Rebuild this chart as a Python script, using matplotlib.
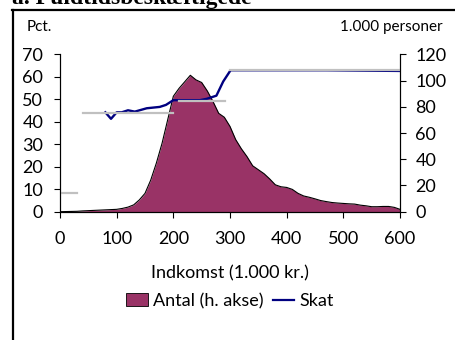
import numpy as np
import matplotlib.pyplot as plt
from matplotlib.lines import Line2D

plt.rcParams['font.family'] = ['Lato', 'DejaVu Sans']

# Antal (1.000 personer, right axis) by income
inc = [0, 10, 20, 30, 40, 50, 60, 70, 80, 90, 100, 110, 120, 130, 140, 150,
       160, 170, 180, 190, 200, 210, 220, 230, 240, 250, 260, 270, 280, 290,
       300, 310, 320, 330, 340, 350, 360, 370, 380, 390, 400, 410, 420, 430,
       440, 450, 460, 470, 480, 490, 500, 510, 520, 530, 540, 550, 560, 570,
       580, 590, 600]
antal = [0, 0.1, 0.2, 0.3, 0.6, 0.8, 1.0, 1.2, 1.4, 1.6, 1.8, 2.5, 3.5, 5.2,
         9, 14, 24, 37, 52, 70, 88, 94, 99, 104, 100.5, 98.5, 92, 84, 75, 72,
         65, 55, 48, 42, 35, 32, 29, 25, 20.5, 19, 18.5, 17, 14, 12, 11, 9.8,
         8.5, 7.7, 7, 6.6, 6.3, 6, 5.8, 5, 4.5, 3.8, 3.8, 4, 4, 3.3, 1.8]

# Skat (pct., left axis)
skat_x = [80, 90, 100, 109, 120, 132, 153, 176, 187, 200, 247, 259, 276, 288,
          301, 470, 600]
skat_y = [44.2, 41.3, 44.2, 44.2, 45.1, 44.5, 46.0, 46.6, 47.5, 49.6, 49.6,
          50.2, 51.6, 57.9, 62.9, 62.9, 62.6]

# grey bracket lines (pct.)
brackets = [(0, 30, 8.2), (40, 200, 43.8), (210, 291, 49.4), (300, 600, 62.9)]

fig = plt.figure(figsize=(4.55, 3.4), dpi=100)
ax = fig.add_axes([60 / 455, 1 - 211.7 / 340, 340 / 455, (211.7 - 54.3) / 340])
ax2 = ax.twinx()

ax2.fill_between(inc, antal, color='#993366', lw=0)
ax2.plot(inc, antal, color='black', lw=0.8)
ax2.set_ylim(0, 120)
ax2.set_yticks(range(0, 121, 20))

ax.set_zorder(ax2.get_zorder() + 1)
ax.patch.set_visible(False)
ax.plot(skat_x, skat_y, color='#000080', lw=1.7)
for x0, x1, y in brackets:
    ax.plot([x0, x1], [y, y], color='#c0c0c0', lw=1.6)
ax.set_xlim(0, 600)
ax.set_ylim(0, 70)
ax.set_xticks(range(0, 601, 100))
ax.set_yticks(range(0, 71, 10))

for a in (ax, ax2):
    a.spines['top'].set_visible(False)
    a.tick_params(labelsize=13, length=4, width=0.8)
ax.tick_params(axis='y', pad=8)
ax.tick_params(axis='x', pad=10)
ax2.tick_params(axis='y', pad=7)

ax.set_xlabel('Indkomst (1.000 kr.)', fontsize=13, labelpad=13)
fig.text(27 / 455, 1 - 27 / 340, 'Pct.', fontsize=11, va='center')
fig.text(443 / 455, 1 - 27 / 340, '1.000 personer', fontsize=11, va='center',
         ha='right')

handles = [plt.Rectangle((0, 0), 1, 1, facecolor='#993366', edgecolor='black',
                         lw=0.6),
           Line2D([0], [0], color='#000080', lw=1.6)]
fig.legend(handles, ['Antal (h. akse)', 'Skat'], loc='center',
           bbox_to_anchor=(230 / 455, 1 - 301 / 340), ncol=2, frameon=False,
           fontsize=13, handlelength=1.2, handletextpad=0.3, columnspacing=0.5)

fig.text(12 / 455, 1 - 4 / 340, 'a. Fuldtidsbeskæftigede', fontsize=17,
         fontweight='bold', family='Liberation Serif', va='baseline')

# frame around the panel
fig.add_artist(Line2D([13 / 455, 13 / 455], [0, 1 - 10 / 340], color='black',
                      lw=1.6, transform=fig.transFigure))
fig.add_artist(Line2D([12 / 455, 1], [1 - 10 / 340, 1 - 10 / 340],
                      color='black', lw=1.6, transform=fig.transFigure))

fig.savefig('out.png', dpi=100)
